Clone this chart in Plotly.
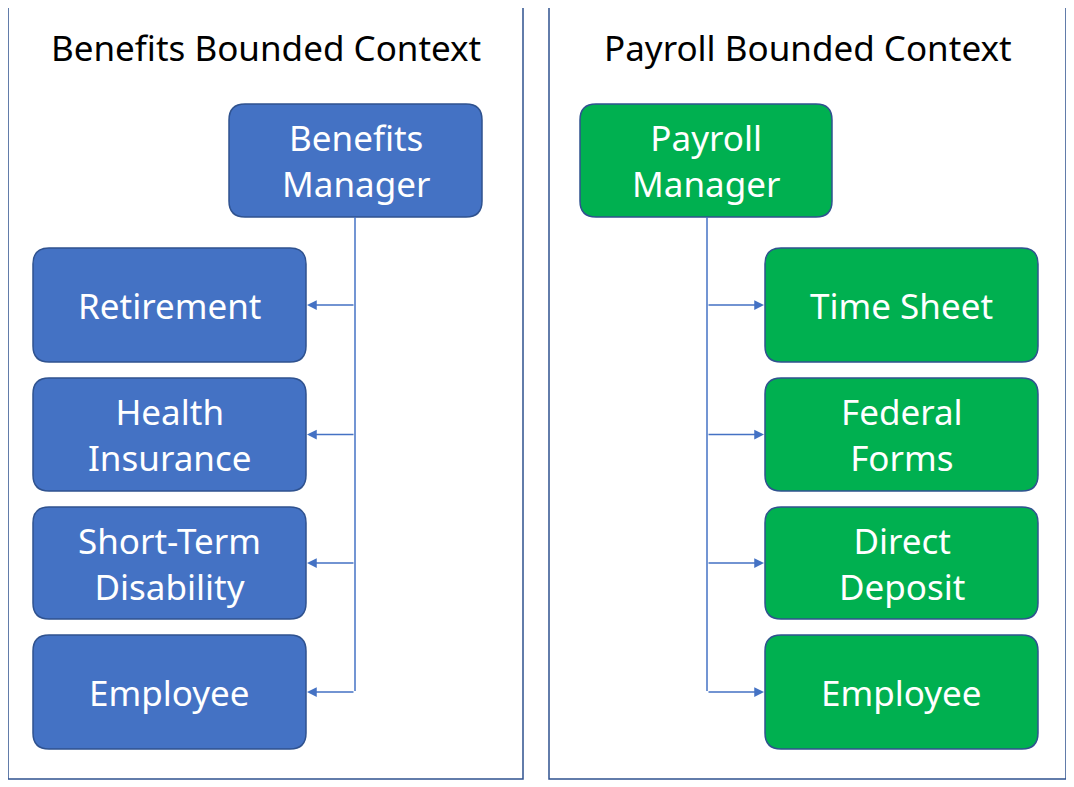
import plotly.graph_objects as go

W, H = 1074, 787
OFF = 8  # page body margin offset

contexts = ["Benefits Bounded Context", "Payroll Bounded Context"]
managers = ["Benefits<br>Manager", "Payroll<br>Manager"]
benefits_children = ["Retirement", "Health<br>Insurance", "Short-Term<br>Disability", "Employee"]
payroll_children = ["Time Sheet", "Federal<br>Forms", "Direct<br>Deposit", "Employee"]

blue, blue_edge = "#4472C4", "#2F528F"
green, green_edge = "#00B050", "#2F528F"
arrow_col = "#4472C4"
font = "Noto Sans"

fig = go.Figure()
shapes, annos = [], []

panels = [(8, 523), (549, 1066)]
mgr_x = [(229, 482), (580, 832)]
child_x = [(33, 306), (765, 1038)]
line_x = [355, 707]
child_y = [(248, 362), (378, 491), (507, 619), (635, 749)]
fills = [(blue, blue_edge), (green, green_edge)]

def rounded(x0, x1, y0, y1, r=16):
    return (f"M{x0+r},{y0} L{x1-r},{y0} Q{x1},{y0} {x1},{y0+r} L{x1},{y1-r} "
            f"Q{x1},{y1} {x1-r},{y1} L{x0+r},{y1} Q{x0},{y1} {x0},{y1-r} "
            f"L{x0},{y0+r} Q{x0},{y0} {x0+r},{y0} Z")

def box(x0, x1, y0, y1, fill, edge, text):
    shapes.append(dict(type="path", path=rounded(x0, x1, y0, y1), fillcolor=fill,
                       line=dict(color=edge, width=1.5), layer="below"))
    annos.append(dict(x=(x0 + x1) / 2, y=(y0 + y1) / 2, text=text, showarrow=False,
                      font=dict(family=font, size=35, color="white")))

for i, children in enumerate([benefits_children, payroll_children]):
    px0, px1 = panels[i]
    shapes.append(dict(type="rect", x0=px0, x1=px1, y0=6, y1=779,
                       line=dict(color="#2F528F", width=1.5)))
    annos.append(dict(x=(px0 + px1) / 2, y=47, text=contexts[i], showarrow=False,
                      font=dict(family=font, size=35, color="black")))
    fill, edge = fills[i]
    mx0, mx1 = mgr_x[i]
    box(mx0, mx1, 104, 217, fill, edge, managers[i])
    cx0, cx1 = child_x[i]
    lx = line_x[i]
    shapes.append(dict(type="line", x0=lx, x1=lx, y0=217, y1=691,
                       line=dict(color=arrow_col, width=1.5)))
    for (y0, y1), lab in zip(child_y, children):
        box(cx0, cx1, y0, y1, fill, edge, lab)
        yc = (y0 + y1) / 2
        tip = cx1 if i == 0 else cx0
        annos.append(dict(x=tip, y=yc, ax=lx, ay=yc, xref="x", yref="y", axref="x", ayref="y",
                          text="", showarrow=True, arrowhead=2, arrowsize=1.3, arrowwidth=1.5,
                          arrowcolor=arrow_col, standoff=1))

fig.update_layout(width=W, height=H, margin=dict(l=0, r=0, t=0, b=0),
                  plot_bgcolor="white", paper_bgcolor="white",
                  shapes=shapes, annotations=annos, showlegend=False,
                  xaxis=dict(range=[OFF, W + OFF], visible=False, fixedrange=True),
                  yaxis=dict(range=[H + OFF, OFF], visible=False, fixedrange=True))
fig.write_html("out.html")
